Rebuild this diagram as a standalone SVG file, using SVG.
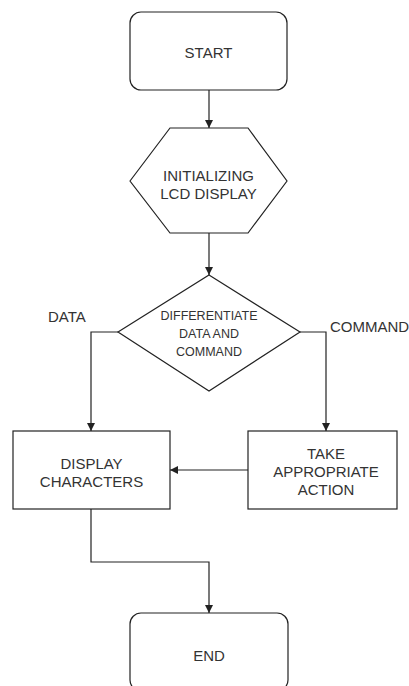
<svg xmlns="http://www.w3.org/2000/svg" width="409" height="686" viewBox="0 0 409 686">
  <style>
    .shape { fill: #ffffff; stroke: #222222; stroke-width: 1.2; }
    .edge { fill: none; stroke: #222222; stroke-width: 1.2; }
    .label { font-family: "Liberation Sans", Arial, sans-serif; fill: #333333; text-anchor: middle; dominant-baseline: central; }
    .t15 { font-size: 15px; }
    .t12 { font-size: 12.5px; }
    .side { font-family: "Liberation Sans", Arial, sans-serif; fill: #333333; font-size: 15px; dominant-baseline: central; }
  </style>
  <defs>
    <marker id="arrow" viewBox="0 0 10 10" refX="10" refY="5" markerWidth="8" markerHeight="8" markerUnits="userSpaceOnUse" orient="auto">
      <path d="M0,0 L10,5 L0,10 Z" fill="#222222"/>
    </marker>
  </defs>
  <rect width="409" height="686" fill="#ffffff"/>

  <g id="connectors">
    <path class="edge" d="M209,90 L209,128" marker-end="url(#arrow)"/>
    <path class="edge" d="M209,233 L209,275" marker-end="url(#arrow)"/>
    <path class="edge" d="M118,332 L91,332 L91,431" marker-end="url(#arrow)"/>
    <path class="edge" d="M300,332 L326,332 L326,431" marker-end="url(#arrow)"/>
    <path class="edge" d="M248,470 L170,470" marker-end="url(#arrow)"/>
    <path class="edge" d="M91,509 L91,562 L209,562 L209,613" marker-end="url(#arrow)"/>
    <text class="side" x="48" y="316">DATA</text>
    <text class="side" x="330" y="326">COMMAND</text>
  </g>

  <g id="start">
    <rect class="shape" x="130" y="12" width="157" height="78" rx="11"/>
    <text class="label t15" x="208.5" y="52">START</text>
  </g>

  <g id="init-lcd">
    <polygon class="shape" points="130,181 170,128 248,128 287,181 248,233 170,233"/>
    <text class="label t15" x="208.5" y="175">INITIALIZING</text>
    <text class="label t15" x="208.5" y="193">LCD DISPLAY</text>
  </g>

  <g id="decide">
    <polygon class="shape" points="209,275 300,332 209,391 118,332"/>
    <text class="label t12" x="209" y="316">DIFFERENTIATE</text>
    <text class="label t12" x="209" y="334">DATA AND</text>
    <text class="label t12" x="209" y="352">COMMAND</text>
  </g>

  <g id="display-chars">
    <rect class="shape" x="13" y="431" width="157" height="78"/>
    <text class="label t15" x="91.5" y="463">DISPLAY</text>
    <text class="label t15" x="91.5" y="481">CHARACTERS</text>
  </g>

  <g id="take-action">
    <rect class="shape" x="248" y="431" width="149" height="78"/>
    <text class="label t15" x="326" y="453">TAKE</text>
    <text class="label t15" x="326" y="471">APPROPRIATE</text>
    <text class="label t15" x="326" y="489">ACTION</text>
  </g>

  <g id="end">
    <rect class="shape" x="130" y="613" width="158" height="78" rx="11"/>
    <text class="label t15" x="209" y="655">END</text>
  </g>
</svg>
